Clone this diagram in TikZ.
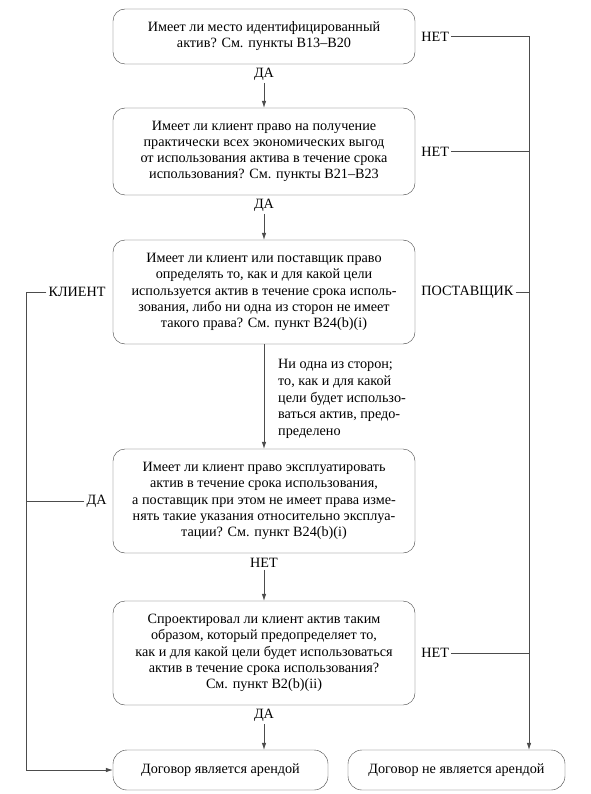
\documentclass[tikz,border=0pt]{standalone}
\usepackage{fontspec}
\setmainfont{Liberation Serif}
\usetikzlibrary{arrows.meta, positioning}

\begin{document}
\begin{tikzpicture}[x=1pt, y=-1pt,
  every node/.style={font=\fontsize{14.2}{16.2}\selectfont},
  question/.style={draw=black!75, rounded corners=12pt, minimum width=302pt, minimum height=104pt, align=center, inner sep=0pt},
  result/.style={draw=black!75, rounded corners=14pt, minimum height=40pt, align=center},
  answer/.style={inner sep=2pt},
  link/.style={draw=black!70, line width=0.6pt},
  arrow/.style={link, -{Latex[length=7pt, width=4.5pt]}}]
  % Frame fixes the margins
  \useasboundingbox (0,0) rectangle (590,794);

  % Question boxes, top to bottom
  \node[question, minimum height=55pt] (asset) at (264,36.5) {Имеет ли место идентифицированный\\актив? См. пункты B13–B20};
  \node[question, minimum height=87pt] (benefits) at (264,151.5) {Имеет ли клиент право на получение\\практически всех экономических выгод\\от использования актива в течение срока\\использования? См. пункты B21–B23};
  \node[question] (direct) at (264,292) {Имеет ли клиент или поставщик право\\определять то, как и для какой цели\\используется актив в течение срока исполь-\\зования, либо ни одна из сторон не имеет\\такого права? См. пункт B24(b)(i)};
  \node[question] (operate) at (264,501) {Имеет ли клиент право эксплуатировать\\актив в течение срока использования,\\а поставщик при этом не имеет права изме-\\нять такие указания относительно эксплуа-\\тации? См. пункт B24(b)(i)};
  \node[question] (design) at (264,653) {Спроектировал ли клиент актив таким\\образом, который предопределяет то,\\как и для какой цели будет использоваться\\актив в течение срока использования?\\См. пункт B2(b)(ii)};

  % Outcome boxes
  \node[result, minimum width=215pt] (lease) at (220.5,770) {Договор является арендой};
  \node[result, minimum width=217pt] (nolease) at (456.5,770) {Договор не является арендой};

  % Side rails
  \coordinate (left rail) at (26,0);
  \coordinate (right rail) at (529,0);

  % Answers below the boxes
  \node[answer, anchor=north] (yes1) at ([yshift=-2pt]asset.south) {ДА};
  \node[answer, anchor=north] (yes2) at ([yshift=-2pt]benefits.south) {ДА};
  \node[answer, anchor=north] (no4) at ([yshift=-3pt]operate.south) {НЕТ};
  \node[answer, anchor=north] (yes5) at ([yshift=-2pt]design.south) {ДА};
  % Answers to the right
  \node[answer, anchor=west] (no1) at ([xshift=4pt]asset.east) {НЕТ};
  \node[answer, anchor=west] (no2) at ([xshift=4pt]benefits.east) {НЕТ};
  \node[answer, anchor=west] (supplier) at ([xshift=4pt]direct.east) {ПОСТАВЩИК};
  \node[answer, anchor=west] (no5) at ([xshift=4pt]design.east) {НЕТ};
  % Answers to the left
  \node[answer, anchor=east] (customer) at ([xshift=-5pt]direct.west) {КЛИЕНТ};
  \node[answer, anchor=east] (yes4) at ([xshift=-4pt]operate.west) {ДА};
  % Note on the middle branch
  \node[anchor=north west, align=left, inner sep=0pt, font=\fontsize{14.2}{16.8}\selectfont] (neither) at (278,359) {Ни одна из сторон;\\то, как и для какой\\цели будет использо-\\ваться актив, предо-\\пределено};

  % Main line down
  \draw[arrow] (yes1.south) -- (benefits.north);
  \draw[arrow] (yes2.south) -- (direct.north);
  \draw[arrow] (direct.south) -- (operate.north);
  \draw[arrow] (no4.south) -- (design.north);
  \draw[arrow] (yes5.south) -- (yes5.south |- lease.north);

  % Right rail to "not a lease"
  \draw[arrow] (no1.east) -- (no1.east -| right rail) -- (right rail |- nolease.north);
  \draw[link] (no2.east) -- (no2.east -| right rail);
  \draw[link] (supplier.east) -- (supplier.east -| right rail);
  \draw[link] (no5.east) -- (no5.east -| right rail);

  % Left rail to "lease"
  \draw[arrow] (customer.west) -- (customer.west -| left rail) -- (left rail |- lease.west) -- (lease.west);
  \draw[link] (yes4.west) -- (yes4.west -| left rail);
\end{tikzpicture}
\end{document}
